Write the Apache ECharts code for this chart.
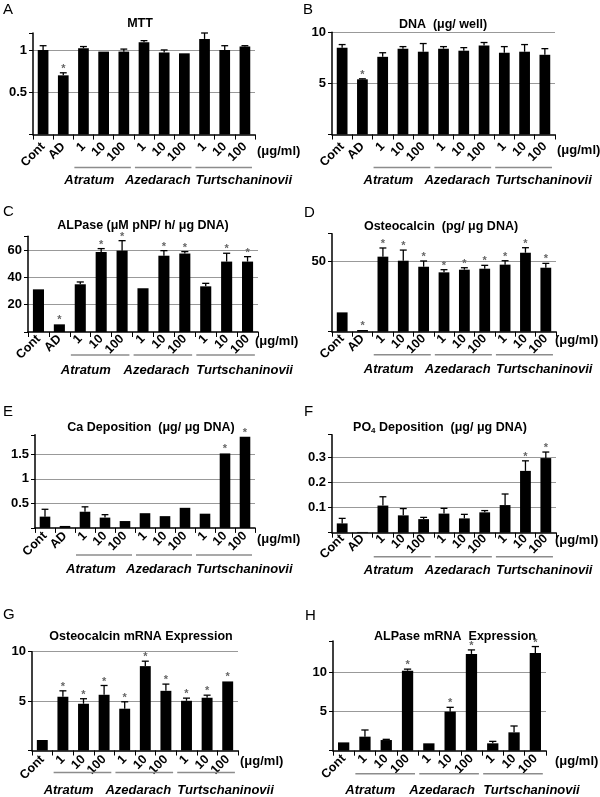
<!DOCTYPE html>
<html><head><meta charset="utf-8">
<script src="https://cdn.jsdelivr.net/npm/echarts@6/dist/echarts.min.js"></script>
<style>html,body{margin:0;padding:0;background:#fff}#c{width:600px;height:797px}</style>
</head><body><div id="c"></div>
<script>
// ---------- categories & groups ----------
const cats11 = ['Cont','AD','1','10','100','1','10','100','1','10','100'];
const cats10 = ['Cont','1','10','100','1','10','100','1','10','100'];
const groupNames = ['Atratum','Azedarach','Turtschaninovii'];
const groupStart11 = [2,5,8];
const groupStart10 = [1,4,7];
const unitLabel = '(μg/ml)';

// ---------- A: MTT ----------
const mttVal  = [1.00,0.70,1.02,0.98,0.98,1.09,0.97,0.96,1.13,1.00,1.04];
const mttErr  = [0.05,0.03,0.02,0.00,0.03,0.02,0.03,0.00,0.07,0.05,0.01];
const mttStar = [0,1,0,0,0,0,0,0,0,0,0];
const mttTicks = [0.5,1];

// ---------- B: DNA ----------
const dnaVal  = [8.5,5.4,7.6,8.4,8.1,8.4,8.2,8.7,8.0,8.1,7.8];
const dnaErr  = [0.3,0.05,0.4,0.2,0.8,0.2,0.3,0.3,0.6,0.7,0.6];
const dnaStar = [0,1,0,0,0,0,0,0,0,0,0];
const dnaTicks = [5,10];

// ---------- C: ALPase ----------
const alpVal  = [31.2,5.6,34.9,58.5,59.5,32.0,55.8,57.4,33.4,51.5,51.5];
const alpErr  = [0,0,1.7,2.5,7.3,0,3.7,1.4,2.2,6.1,3.6];
const alpStar = [0,1,0,1,1,0,1,1,0,1,1];
const alpTicks = [20,40,60];

// ---------- D: Osteocalcin ----------
const ocVal  = [13.8,1.2,53.6,50.7,46.4,42.4,44.3,45.0,47.9,56.4,45.7];
const ocErr  = [0,0,6.2,7.6,4.1,1.9,1.4,2.4,2.8,3.6,3.1];
const ocStar = [0,1,1,1,1,1,1,1,1,1,1];
const ocTicks = [50];

// ---------- E: Ca deposition ----------
const caVal  = [0.23,0.04,0.33,0.21,0.14,0.30,0.24,0.41,0.29,1.52,1.86];
const caErr  = [0.15,0,0.10,0.06,0,0,0,0,0,0,0];
const caStar = [0,0,0,0,0,0,0,0,0,1,1];
const caTicks = [0.5,1,1.5];

// ---------- F: PO4 deposition ----------
const poVal  = [0.037,0.003,0.108,0.069,0.054,0.076,0.057,0.081,0.110,0.246,0.297];
const poErr  = [0.020,0,0.035,0.027,0.007,0.021,0.016,0.007,0.044,0.040,0.024];
const poStar = [0,0,0,0,0,0,0,0,0,1,1];
const poTicks = [0.1,0.2,0.3];

// ---------- G: Osteocalcin mRNA ----------
const ocmVal  = [1.06,5.44,4.73,5.64,4.23,8.54,6.04,5.03,5.34,6.99];
const ocmErr  = [0,0.6,0.51,0.94,0.7,0.5,0.68,0.27,0.26,0];
const ocmStar = [0,1,1,1,1,1,1,1,1,1];
const ocmTicks = [5,10];

// ---------- H: ALPase mRNA ----------
const alpmVal  = [1.06,1.79,1.36,10.2,0.94,4.98,12.34,0.94,2.34,12.47];
const alpmErr  = [0,0.85,0.09,0.2,0,0.55,0.51,0.25,0.81,0.81];
const alpmStar = [0,0,0,1,0,1,1,0,0,1];
const alpmTicks = [5,10];

// ---------- layout / style ----------
const groupNameShift = [-10,-10,0];
const panels = [
  {letter:'A', title:'MTT', cats:cats11, gs:groupStart11, val:mttVal, err:mttErr, star:mttStar, ticks:mttTicks, max:1.2, interval:0.5,
   g:{left:33, top:33, width:222, height:101.6}, lx:3, ly:2, tx:140, ty:24, nameGap:2, nameDy:17, lineOff:33, nameOff:46, lm:10},
  {letter:'B', title:'DNA  (μg/ well)', cats:cats11, gs:groupStart11, val:dnaVal, err:dnaErr, star:dnaStar, ticks:dnaTicks, max:10, interval:5,
   g:{left:332, top:32.3, width:223, height:102.2}, lx:303, ly:2, tx:443, ty:25, nameGap:2, nameDy:16, lineOff:33, nameOff:46, lm:10},
  {letter:'C', title:'ALPase (μM pNP/ h/ μg DNA)', cats:cats11, gs:groupStart11, val:alpVal, err:alpErr, star:alpStar, ticks:alpTicks, max:70, interval:20,
   g:{left:28, top:236.3, width:230, height:95.7}, lx:3, ly:204, tx:143, ty:226, nameGap:-3, nameDy:9, lineOff:23, nameOff:38, lm:5},
  {letter:'D', title:'Osteocalcin  (pg/ μg DNA)', cats:cats11, gs:groupStart11, val:ocVal, err:ocErr, star:ocStar, ticks:ocTicks, max:70, interval:50,
   g:{left:332, top:233.7, width:224, height:98}, lx:304, ly:205, tx:441, ty:227, nameGap:-1, nameDy:9, lineOff:23, nameOff:38, lm:5},
  {letter:'E', title:'Ca Deposition  (μg/ μg DNA)', cats:cats11, gs:groupStart11, val:caVal, err:caErr, star:caStar, ticks:caTicks, max:1.9, interval:0.5,
   g:{left:35, top:434.8, width:220, height:93.1}, lx:3, ly:404, tx:151, ty:428, nameGap:2, nameDy:12, lineOff:27, nameOff:42, lm:6},
  {letter:'F', title:null, cats:cats11, gs:groupStart11, val:poVal, err:poErr, star:poStar, ticks:poTicks, max:0.39, interval:0.1,
   g:{left:332, top:434.7, width:224, height:98}, lx:304, ly:404, tx:440, ty:428, nameGap:-1, nameDy:8, lineOff:24, nameOff:38, lm:4},
  {letter:'G', title:'Osteocalcin mRNA Expression', cats:cats10, gs:groupStart10, val:ocmVal, err:ocmErr, star:ocmStar, ticks:ocmTicks, max:10, interval:5,
   g:{left:32, top:651.7, width:206, height:98.8}, lx:3, ly:607, tx:141, ty:637, nameGap:2, nameDy:11, lineOff:22, nameOff:40, lm:7},
  {letter:'H', title:'ALPase mRNA  Expression', cats:cats10, gs:groupStart10, val:alpmVal, err:alpmErr, star:alpmStar, ticks:alpmTicks, max:14, interval:5,
   g:{left:333, top:640.9, width:213, height:109.8}, lx:305, ly:608, tx:455, ty:637, nameGap:9, nameDy:11, lineOff:23, nameOff:40, lm:6}
];

const FF = '"Liberation Sans", Arial, sans-serif';

function errRender(params, api){
  const idx = api.value(0), v = api.value(1), e = api.value(2), s = api.value(3);
  const p0 = api.coord([idx, v]);
  const p1 = api.coord([idx, v + e]);
  const w = api.size([1,0])[0] * 0.17;
  const ch = [];
  if (e > 0) {
    ch.push({type:'line', shape:{x1:p0[0], y1:p0[1], x2:p1[0], y2:p1[1]}, style:{stroke:'#000', lineWidth:1.3}});
    ch.push({type:'line', shape:{x1:p1[0]-w, y1:p1[1], x2:p1[0]+w, y2:p1[1]}, style:{stroke:'#000', lineWidth:1.3}});
  }
  if (s) {
    ch.push({type:'text', x:p1[0], y:p1[1]-4, style:{text:'*', fill:'#666', font:'bold 11px ' + FF, align:'center', verticalAlign:'middle'}});
  }
  return {type:'group', children:ch};
}

function makeGroupRender(p){
  return function(params, api){
    const s = api.value(0), e = api.value(1), gi = api.value(2);
    const a = api.coord([s, 0]), b = api.coord([e, 0]);
    const cw = api.size([1,0])[0];
    const x1 = a[0] - cw*0.45, x2 = b[0] + cw*0.35, y0 = a[1];
    const ch = [
      {type:'line', shape:{x1:x1, y1:y0+p.lineOff, x2:x2, y2:y0+p.lineOff}, style:{stroke:'#8c8c8c', lineWidth:1.5}},
      {type:'text', x:x1 + groupNameShift[gi], y:y0+p.nameOff, style:{text:groupNames[gi], font:'italic bold 13px ' + FF, fill:'#000', align:'left', verticalAlign:'middle'}}
    ];
    if (params.dataIndex === 0) {
      const cs = params.coordSys;
      ch.push({type:'text', x:cs.x + cs.width + p.nameGap, y:y0 + p.nameDy,
        style:{text:unitLabel, font:'bold 13px ' + FF, fill:'#000', align:'left', verticalAlign:'middle'}});
    }
    return {type:'group', children:ch};
  };
}

const grid = [], xAxis = [], yAxis = [], series = [], graphic = [];
panels.forEach((p, i) => {
  grid.push(Object.assign({containLabel:false, outerBoundsMode:'none'}, p.g));
  xAxis.push({
    gridIndex:i, type:'category', data:p.cats,
    axisLine:{show:true, lineStyle:{color:'#000', width:1.5}},
    axisTick:{show:true, alignWithLabel:false, length:5, lineStyle:{color:'#000', width:1}},
    axisLabel:{rotate:45, interval:0, margin:p.lm, color:'#000', fontFamily:FF, fontWeight:'bold', fontSize:12.5},
    splitLine:{show:false}
  });
  const tk = p.ticks;
  yAxis.push({
    gridIndex:i, type:'value', min:0, max:p.max, interval:p.interval,
    axisLine:{show:true, lineStyle:{color:'#000', width:1.5}},
    axisTick:{show:true, length:4, lineStyle:{color:'#000'}},
    splitLine:{show:true, showMinLine:false, showMaxLine: tk.some(t => Math.abs(t - p.max) < 1e-9), lineStyle:{color:'#999', width:1}},
    axisLabel:{margin:6, color:'#000', fontFamily:FF, fontWeight:'bold', fontSize:13,
      formatter: v => tk.some(t => Math.abs(t - v) < 1e-9) ? String(+v.toFixed(2)) : ''}
  });
  series.push({type:'bar', xAxisIndex:i, yAxisIndex:i, data:p.val, barWidth:'53%', itemStyle:{color:'#000'}, silent:true, z:2});
  series.push({type:'custom', xAxisIndex:i, yAxisIndex:i, renderItem:errRender, encode:{x:0, y:1}, z:3, silent:true,
    data:p.val.map((v, k) => [k, v, p.err[k], p.star[k]])});
  series.push({type:'custom', xAxisIndex:i, yAxisIndex:i, renderItem:makeGroupRender(p), encode:{x:[0,1], y:3}, z:3, silent:true, clip:false,
    data:p.gs.map((s, gi) => [s, s+2, gi, 0])});
  graphic.push({type:'text', x:p.lx, y:p.ly, style:{text:p.letter, font:'15px ' + FF, fill:'#000', align:'left', verticalAlign:'top'}});
  if (p.title) {
    graphic.push({type:'text', x:p.tx, y:p.ty, style:{text:p.title, font:'bold 12.5px ' + FF, fill:'#000', align:'center', verticalAlign:'middle'}});
  } else {
    graphic.push({type:'text', x:p.tx, y:p.ty, style:{text:'{a|PO}{s|4}{a| Deposition  (μg/ μg DNA)}', align:'center', verticalAlign:'middle',
      rich:{a:{font:'bold 12.5px ' + FF, fill:'#000'}, s:{font:'bold 8px ' + FF, fill:'#000', verticalAlign:'bottom'}}}});
  }
});

const chart = echarts.init(document.getElementById('c'), null, {renderer:'canvas'});
chart.setOption({
  animation:false, backgroundColor:'#fff',
  textStyle:{fontFamily:FF},
  grid:grid, xAxis:xAxis, yAxis:yAxis, series:series, graphic:graphic
});
</script>
</body></html>
